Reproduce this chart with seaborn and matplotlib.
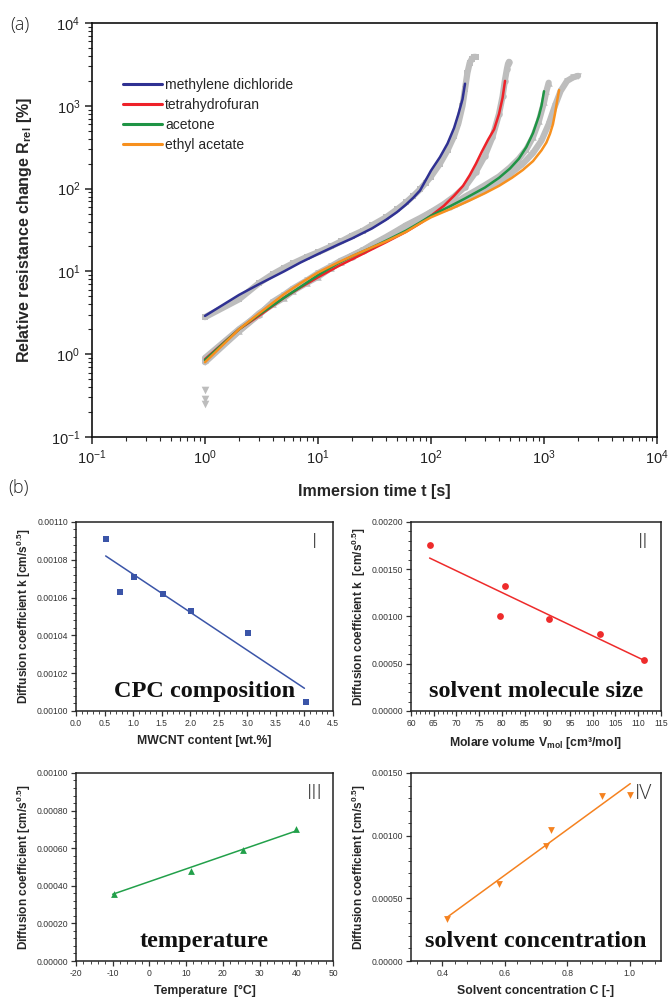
import numpy as np
import pandas as pd
import seaborn as sns
import matplotlib
matplotlib.use('Agg')
import matplotlib.pyplot as plt
from matplotlib.ticker import (LogLocator, FormatStrFormatter, MultipleLocator,
                               AutoMinorLocator, NullFormatter)

# ---- (a) fitted curves ----
t_md = [1, 2, 3, 5, 7, 10, 15, 20, 30, 40, 50, 60, 70, 80, 100, 120, 140, 160, 175, 190, 200]
r_md = [2.9, 5.2, 7.0, 10, 12.8, 16.2, 21, 25, 33, 42, 52, 64, 78, 95, 165, 240, 350, 540, 800,
        1200, 1850]
t_thf = [1, 2, 3, 5, 7, 10, 15, 20, 30, 40, 60, 80, 100, 130, 160, 192, 220, 250, 282, 320, 362,
         400, 430, 452]
r_thf = [0.87, 2.0, 2.9, 4.8, 6.4, 8.5, 11.5, 14, 18.5, 22.5, 30, 38, 47, 62, 82, 108, 145, 200,
         280, 390, 520, 800, 1250, 2000]
t_ace = [1, 2, 3, 5, 7, 10, 15, 20, 30, 40, 60, 80, 100, 150, 200, 300, 400, 500, 600, 700, 800,
         900, 950, 1000]
r_ace = [0.85, 2.0, 3.0, 4.8, 6.5, 9.0, 12.5, 15.2, 19.5, 23.5, 31, 39, 47, 62, 76, 103, 135, 175,
         230, 320, 470, 750, 1000, 1500]
t_ea = [1, 2, 3, 5, 7, 10, 15, 20, 30, 40, 60, 80, 100, 150, 220, 300, 400, 520, 650, 800, 950,
        1050, 1130, 1200, 1250, 1300, 1360]
r_ea = [0.8, 2.0, 3.1, 5.3, 7.2, 9.7, 12.8, 15.3, 19.5, 23, 30, 38, 45, 57, 72, 88, 108, 135, 168,
        215, 290, 360, 460, 600, 800, 1100, 1550]

# ---- (a) measured points (grey) ----
g_md_t = [1, 2, 3, 4, 5, 6, 8, 10, 13, 16, 20, 25, 30, 40, 50, 60, 70, 80, 90, 100, 120, 140,
          160, 175, 190, 200, 210, 220, 230, 240, 250]
g_md_r = [2.8, 4.6, 7.2, 9.3, 11, 12.5, 15, 17, 20, 23, 27, 31, 36, 45, 56, 68, 82, 98, 118, 140,
          200, 290, 430, 620, 1000, 1600, 2500, 3300, 3700, 3900, 3900]
g_thf_t = [1, 2, 3, 4, 5, 6, 8, 10, 13, 16, 20, 25, 30, 40, 50, 60, 80, 100, 130, 160, 200,
           250, 300, 350, 400, 430, 450, 470, 480, 490]
g_thf_r = [0.9, 2.0, 3.0, 4.2, 5.0, 6.0, 7.5, 8.8, 11, 13, 15, 17.5, 20, 25, 30, 35, 42, 52,
           65, 80, 105, 160, 250, 420, 800, 1300, 2000, 2800, 3200, 3400]
g_ace_t = [1, 2, 3, 4, 5, 6, 8, 10, 13, 16, 20, 25, 30, 40, 50, 60, 80, 100, 130, 160, 200,
           250, 300, 400, 500, 600, 700, 800, 900, 1000, 1050, 1100]
g_ace_r = [0.85, 1.9, 3.1, 4.0, 4.8, 5.8, 7.3, 8.6, 11, 13, 15.5, 18, 21, 26, 31, 36, 44, 52,
           60, 66, 80, 95, 110, 140, 180, 230, 300, 420, 650, 1100, 1500, 1900]
g_ea_t = [1, 2, 3, 4, 5, 6, 8, 10, 13, 16, 20, 25, 30, 40, 50, 60, 80, 100, 150, 200, 300, 400,
          500, 650, 800, 950, 1100, 1250, 1400, 1600, 1800, 2000]
g_ea_r = [0.8, 1.9, 3.0, 4.3, 5.2, 6.2, 7.8, 9.5, 11.5, 13.5, 15.5, 18, 20.5, 25, 30, 35, 42,
          50, 60, 72, 95, 120, 150, 200, 270, 380, 600, 1000, 1500, 2000, 2200, 2300]
g_low_t = [1, 1, 1]
g_low_r = [0.37, 0.29, 0.25]

solvents = ['methylene dichloride', 'tetrahydrofuran', 'acetone', 'ethyl acetate']
colors = ['#2f3192', '#ee2229', '#1f9445', '#f7901e']

# ---- (b) panels ----
mwcnt = [0.52, 0.77, 1.02, 1.52, 2.02, 3.02, 4.03]
k_mwcnt = [0.001091, 0.001063, 0.001071, 0.001062, 0.001053, 0.001041, 0.001005]
fit_mwcnt_x = [0.52, 4.0]
fit_mwcnt_y = [0.001082, 0.001012]

vmol = [64.1, 79.5, 80.8, 90.3, 101.5, 111.2]
k_vmol = [0.001752, 0.00100, 0.001324, 0.00097, 0.00081, 0.00054]
fit_vmol_x = [64.1, 111.2]
fit_vmol_y = [0.001618, 0.000538]

temp = [-9.7, 11.2, 25.5, 40.0]
k_temp = [0.000358, 0.000477, 0.000590, 0.000700]
fit_temp_x = [-10.0, 40.0]
fit_temp_y = [0.000355, 0.000692]

conc = [0.414, 0.583, 0.732, 0.749, 0.911, 1.002]
k_conc = [0.000338, 0.000612, 0.000915, 0.001043, 0.001314, 0.001322]
fit_conc_x = [0.414, 1.002]
fit_conc_y = [0.000346, 0.001415]

sns.set_theme(style='ticks')
plt.rcParams['font.family'] = ['Liberation Sans', 'DejaVu Sans']
plt.rcParams['mathtext.default'] = 'regular'
plt.rcParams['axes.unicode_minus'] = False
plt.rcParams['axes.linewidth'] = 1.2

fig = plt.figure(figsize=(6.70, 9.97), dpi=100)

# ================= (a) =================
ax = fig.add_axes([0.1373, 0.5617, 0.8433, 0.4152])
ax.set_xscale('log')
ax.set_yscale('log')

grey = '#bdbdbd'
for gt, gr, mk in [(g_md_t, g_md_r, 's'), (g_thf_t, g_thf_r, 'o'),
                   (g_ace_t, g_ace_r, '^'), (g_ea_t, g_ea_r, 'v')]:
    sns.lineplot(x=gt, y=gr, ax=ax, color=grey, lw=4.5, sort=False, legend=False)
    sns.scatterplot(x=gt, y=gr, ax=ax, color=grey, marker=mk, s=22, linewidth=0, legend=False)
sns.scatterplot(x=g_low_t, y=g_low_r, ax=ax, color=grey, marker='v', s=30, linewidth=0,
                legend=False)

fits = pd.concat([
    pd.DataFrame({'t': t_md, 'R': r_md, 'solvent': solvents[0]}),
    pd.DataFrame({'t': t_thf, 'R': r_thf, 'solvent': solvents[1]}),
    pd.DataFrame({'t': t_ace, 'R': r_ace, 'solvent': solvents[2]}),
    pd.DataFrame({'t': t_ea, 'R': r_ea, 'solvent': solvents[3]}),
])
sns.lineplot(data=fits, x='t', y='R', hue='solvent', hue_order=solvents,
             palette=dict(zip(solvents, colors)), sort=False, lw=1.8, ax=ax)

ax.set_xlim(0.1, 1e4)
ax.set_ylim(0.1, 1e4)
for a in (ax.xaxis, ax.yaxis):
    a.set_major_locator(LogLocator(base=10, numticks=10))
    a.set_minor_locator(LogLocator(base=10, subs=np.arange(2, 10), numticks=10))
    a.set_minor_formatter(NullFormatter())
ax.tick_params(which='major', direction='out', length=5, width=1.1, labelsize=10.5,
               colors='#222222', top=False, right=False)
ax.tick_params(which='minor', direction='out', length=3, width=0.8, top=False, right=False)
ax.set_xlabel('Immersion time t [s]', fontsize=11.5, fontweight='bold', labelpad=12)
ax.set_ylabel('Relative resistance change R$_{rel}$ [%]', fontsize=11.5, fontweight='bold',
              labelpad=12)
leg = ax.legend(loc='upper left', bbox_to_anchor=(0.045, 0.88), frameon=False, fontsize=10,
                handlelength=2.8, handletextpad=0.25, labelspacing=0.42, borderaxespad=0)
for line in leg.get_lines():
    line.set_linewidth(2.2)
for s in ax.spines.values():
    s.set_visible(True)
    s.set_linewidth(1.2)
    s.set_color('#111111')

fig.text(0.016, 0.975, '(a)', fontsize=13, family=['Open Sans', 'DejaVu Sans'],
         fontweight='light', va='center', color='#222222')
fig.text(0.012, 0.511, '(b)', fontsize=13, family=['Open Sans', 'DejaVu Sans'],
         fontweight='light', va='center', color='#222222')


def small_panel(rect, xs, ys, fx, fy, color, marker, xlim, ylim, xmaj, ymaj, xlabel, ylabel,
                roman, caption, xticks=None):
    a = fig.add_axes(rect)
    sns.lineplot(x=fx, y=fy, ax=a, color=color, lw=1.1, legend=False)
    sns.scatterplot(x=xs, y=ys, ax=a, color=color, marker=marker, s=24, linewidth=0,
                    legend=False, zorder=3)
    a.set_xlim(*xlim)
    a.set_ylim(*ylim)
    if xticks is not None:
        a.set_xticks(xticks)
    else:
        a.xaxis.set_major_locator(MultipleLocator(xmaj))
    a.xaxis.set_minor_locator(AutoMinorLocator(5))
    a.yaxis.set_major_locator(MultipleLocator(ymaj))
    a.yaxis.set_minor_locator(AutoMinorLocator(5))
    a.yaxis.set_major_formatter(FormatStrFormatter('%.5f'))
    a.tick_params(which='major', direction='out', length=3.5, width=0.9, labelsize=6.2,
                  colors='#333333', pad=2)
    a.tick_params(which='minor', direction='out', length=2, width=0.6)
    a.set_xlabel(xlabel, fontsize=8.8, fontweight='bold', labelpad=5)
    a.set_ylabel(ylabel, fontsize=8.6, fontweight='bold', labelpad=3)
    for s in a.spines.values():
        s.set_visible(True)
        s.set_linewidth(1.1)
        s.set_color('#222222')
    a.text(0.93, 0.89, roman, transform=a.transAxes, fontsize=15, ha='center', va='center',
           family=['Open Sans', 'DejaVu Sans'], fontweight='light', color='#333333')
    a.text(0.5, 0.105, caption, transform=a.transAxes, fontsize=17.5, ha='center',
           va='center', family=['Liberation Serif', 'DejaVu Serif'], fontweight='bold',
           color='#111111')
    return a


small_panel([0.1134, 0.2869, 0.3836, 0.1896], mwcnt, k_mwcnt, fit_mwcnt_x, fit_mwcnt_y,
            '#3b55a8', 's', (0, 4.5), (0.00100, 0.00110), 0.5, 0.00002,
            'MWCNT content [wt.%]', 'Diffusion coefficient k [cm/s$^{0.5}$]', 'I',
            'CPC composition')
small_panel([0.6134, 0.2869, 0.373, 0.1896], vmol, k_vmol, fit_vmol_x, fit_vmol_y,
            '#ee2b2b', 'o', (60, 115), (0, 0.002), 5, 0.0005,
            'Molare volume V$_{mol}$ [cm³/mol]', 'Diffusion coefficient k  [cm/s$^{0.5}$]',
            'II', 'solvent molecule size')
small_panel([0.1134, 0.0361, 0.3836, 0.1886], temp, k_temp, fit_temp_x, fit_temp_y,
            '#22a04a', '^', (-20, 50), (0, 0.001), 10, 0.0002,
            'Temperature  [°C]', 'Diffusion coefficient [cm/s$^{0.5}$]', 'III', 'temperature')
small_panel([0.6134, 0.0361, 0.373, 0.1886], conc, k_conc, fit_conc_x, fit_conc_y,
            '#f58220', 'v', (0.3, 1.1), (0, 0.0015), 0.2, 0.0005,
            'Solvent concentration C [-]', 'Diffusion coefficient [cm/s$^{0.5}$]', 'IV',
            'solvent concentration', xticks=[0.4, 0.6, 0.8, 1.0])

fig.savefig('out.png', dpi=100)
